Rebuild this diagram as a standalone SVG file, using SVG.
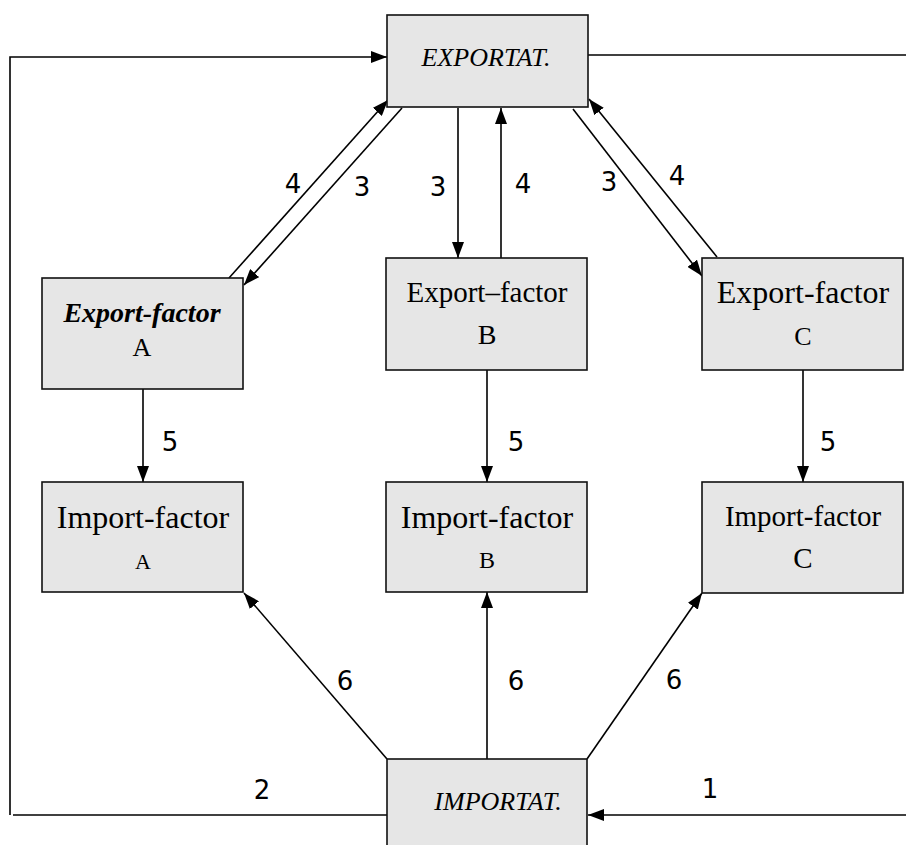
<svg xmlns="http://www.w3.org/2000/svg" width="906" height="845" viewBox="0 0 906 845">
<style>
.box{fill:#e6e6e6;stroke:#111;stroke-width:1.6}
.t{font-family:"Liberation Serif","Times New Roman",serif;fill:#000;text-anchor:middle}
.it{font-style:italic}
.bi{font-style:italic;font-weight:bold}
.ln{stroke:#000;stroke-width:1.6;fill:none}
.lab{font-family:"DejaVu Sans",Verdana,sans-serif;font-size:26px;fill:#000;text-anchor:middle}
</style>
<defs>
<marker id="ah" markerUnits="userSpaceOnUse" markerWidth="16" markerHeight="12" refX="16" refY="6" orient="auto">
<path d="M0,0 L16,6 L0,12 z" fill="#000"/>
</marker>
</defs>
<g id="connectors">
<polyline class="ln" points="10,815 10,57 387,57" marker-end="url(#ah)"/>
<line class="ln" x1="588" y1="55" x2="906" y2="55"/>
<line class="ln" x1="229" y1="278" x2="388" y2="100" marker-end="url(#ah)"/>
<line class="ln" x1="402" y1="108" x2="244" y2="285" marker-end="url(#ah)"/>
<line class="ln" x1="458" y1="108" x2="458" y2="258" marker-end="url(#ah)"/>
<line class="ln" x1="501" y1="258" x2="501" y2="108" marker-end="url(#ah)"/>
<line class="ln" x1="573" y1="109" x2="702" y2="276" marker-end="url(#ah)"/>
<line class="ln" x1="717" y1="257" x2="589" y2="99" marker-end="url(#ah)"/>
<line class="ln" x1="143" y1="389" x2="143" y2="482" marker-end="url(#ah)"/>
<line class="ln" x1="487" y1="370" x2="487" y2="482" marker-end="url(#ah)"/>
<line class="ln" x1="803" y1="370" x2="803" y2="482" marker-end="url(#ah)"/>
<line class="ln" x1="387" y1="759" x2="244" y2="593" marker-end="url(#ah)"/>
<line class="ln" x1="487" y1="759" x2="487" y2="592" marker-end="url(#ah)"/>
<line class="ln" x1="587" y1="759" x2="702" y2="593" marker-end="url(#ah)"/>
<line class="ln" x1="387" y1="815" x2="13" y2="815"/>
<line class="ln" x1="906" y1="815" x2="588" y2="815" marker-end="url(#ah)"/>
<text class="lab" x="293" y="193">4</text>
<text class="lab" x="362" y="196">3</text>
<text class="lab" x="438" y="196">3</text>
<text class="lab" x="523" y="193">4</text>
<text class="lab" x="609" y="191">3</text>
<text class="lab" x="677" y="185">4</text>
<text class="lab" x="170" y="451">5</text>
<text class="lab" x="516" y="451">5</text>
<text class="lab" x="828" y="451">5</text>
<text class="lab" x="345" y="690">6</text>
<text class="lab" x="516" y="690">6</text>
<text class="lab" x="674" y="689">6</text>
<text class="lab" x="262" y="799">2</text>
<text class="lab" x="710" y="798">1</text>
</g>
<g id="exportat">
<rect class="box" x="387" y="15" width="201" height="92"/>
<text class="t it" x="486" y="66" font-size="26">EXPORTAT.</text>
</g>
<g id="export-a">
<rect class="box" x="42" y="278" width="201" height="111"/>
<text class="t bi" x="142" y="322" font-size="28">Export-factor</text>
<text class="t" x="142" y="356" font-size="26">A</text>
</g>
<g id="export-b">
<rect class="box" x="386" y="258" width="201" height="112"/>
<text class="t" x="487" y="302" font-size="29">Export–factor</text>
<text class="t" x="487" y="344" font-size="28">B</text>
</g>
<g id="export-c">
<rect class="box" x="702" y="258" width="201" height="112"/>
<text class="t" x="803" y="303" font-size="32">Export-factor</text>
<text class="t" x="803" y="345" font-size="26">C</text>
</g>
<g id="import-a">
<rect class="box" x="42" y="482" width="201" height="110"/>
<text class="t" x="143" y="528" font-size="32">Import-factor</text>
<text class="t" x="143" y="569" font-size="22">A</text>
</g>
<g id="import-b">
<rect class="box" x="386" y="482" width="201" height="110"/>
<text class="t" x="487" y="528" font-size="32">Import-factor</text>
<text class="t" x="487" y="568" font-size="24">B</text>
</g>
<g id="import-c">
<rect class="box" x="702" y="482" width="201" height="111"/>
<text class="t" x="803" y="526" font-size="29">Import-factor</text>
<text class="t" x="803" y="568" font-size="29">C</text>
</g>
<g id="importat">
<rect class="box" x="387" y="759" width="200" height="100"/>
<text class="t it" x="498" y="810" font-size="26">IMPORTAT.</text>
</g>
</svg>
